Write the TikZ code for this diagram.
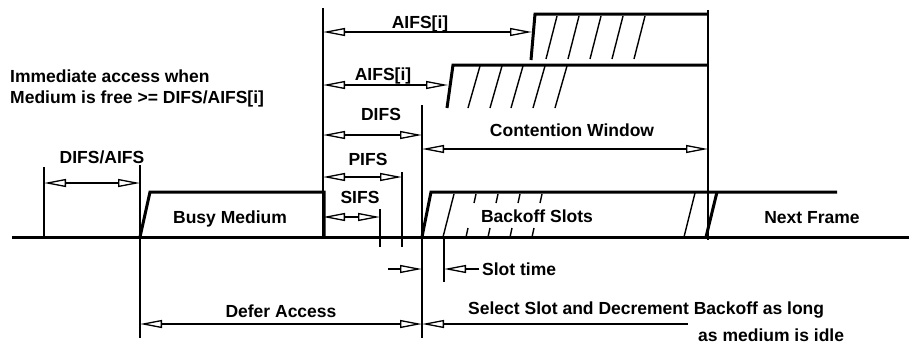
\documentclass[tikz,border=0pt]{standalone}
\usepackage{fontspec}
\setmainfont{Liberation Sans}
\usetikzlibrary{arrows.meta}
\begin{document}
\begin{tikzpicture}[x=1pt,y=-1pt,
  thickline/.style={line width=3pt},
  markline/.style={line width=1.8pt},
  hatch/.style={line width=1.4pt},
  opentip/.tip={Triangle[open,length=22pt,width=8pt]},
  dimarr/.style={line width=1.3pt,opentip-opentip},
  lbl/.style={font=\fontsize{17.5}{21}\selectfont\bfseries,inner sep=0pt,anchor=base}]
  \useasboundingbox (0,0) rectangle (909,343);
  % medium and frames
  \draw[thickline] (12,237) -- (909,237);
  \draw[thickline] (140,237) -- (150,192) -- (324,192) -- (324,237);
  \draw[thickline] (422,237) -- (431,192) -- (837,192);
  \draw[thickline] (706,237) -- (717,192);
  \draw[thickline] (447,108) -- (453,65) -- (708,65);
  \draw[thickline] (531,60) -- (535,14) -- (708,14);
  % time marks
  \draw[markline] (44,167) -- (44,237);
  \draw[markline] (140,165) -- (140,338);
  \draw[markline] (323,8) -- (323,237);
  \draw[markline] (422,105) -- (422,338);
  \draw[markline] (708,10) -- (708,240);
  \draw[markline] (380,209) -- (380,247);
  \draw[markline] (402,172) -- (402,247);
  \draw[markline] (444,237) -- (444,282);
  % hatching
  \foreach \x in {557,579,601,623,645}
    \draw[hatch] (\x,16) -- (\x-11,59);
  \foreach \x in {480,502,523,545,567}
    \draw[hatch] (\x,66) -- (\x-12,108);
  \foreach \x in {476,498,520,542} {
    \draw[hatch] (\x,194) -- ++(-2,9);
    \draw[hatch] (\x-8,228) -- ++(-2,9);
  }
  \draw[hatch] (443,237) -- (454,194);
  \draw[hatch] (684,237) -- (695,193);
  % intervals
  \draw[dimarr] (44,183) -- (140,183);
  \draw[dimarr] (323,32) -- (532,32);
  \draw[dimarr] (323,85) -- (448,85);
  \draw[dimarr] (323,135) -- (422,135);
  \draw[dimarr] (422,149) -- (708,149);
  \draw[dimarr] (323,177) -- (402,177);
  \draw[dimarr] (323,217) -- (380,217);
  \draw[line width=1.3pt,-opentip] (388,269) -- (422,269);
  \draw[line width=1.3pt,-opentip] (479,269) -- (444,269);
  \draw[dimarr] (140,324) -- (422,324);
  \draw[line width=1.3pt,opentip-] (422,324) -- (688,324);
  % labels
  \node[lbl,anchor=base west] (imm1) at (10,82) {Immediate access when};
  \node[lbl,anchor=base west] (imm2) at (10,103) {Medium is free >= DIFS/AIFS[i]};
  \node[lbl] (difsaifs) at (102,163) {DIFS/AIFS};
  \node[lbl] (busy) at (230,223) {Busy Medium};
  \node[lbl] (aifs1) at (420,28) {AIFS[i]};
  \node[lbl] (aifs2) at (383,80) {AIFS[i]};
  \node[lbl] (difs) at (381,120) {DIFS};
  \node[lbl] (cw) at (572,136) {Contention Window};
  \node[lbl] (pifs) at (368,165) {PIFS};
  \node[lbl] (sifs) at (360,203) {SIFS};
  \node[lbl] (backoff) at (537,222) {Backoff Slots};
  \node[lbl] (next) at (812,223) {Next Frame};
  \node[lbl,anchor=base west] (slot) at (482,275) {Slot time};
  \node[lbl] (defer) at (281,317) {Defer Access};
  \node[lbl,anchor=base west] (sel1) at (468,314) {Select Slot and Decrement Backoff as long};
  \node[lbl,anchor=base west] (sel2) at (698,341) {as medium is idle};
\end{tikzpicture}
\end{document}
